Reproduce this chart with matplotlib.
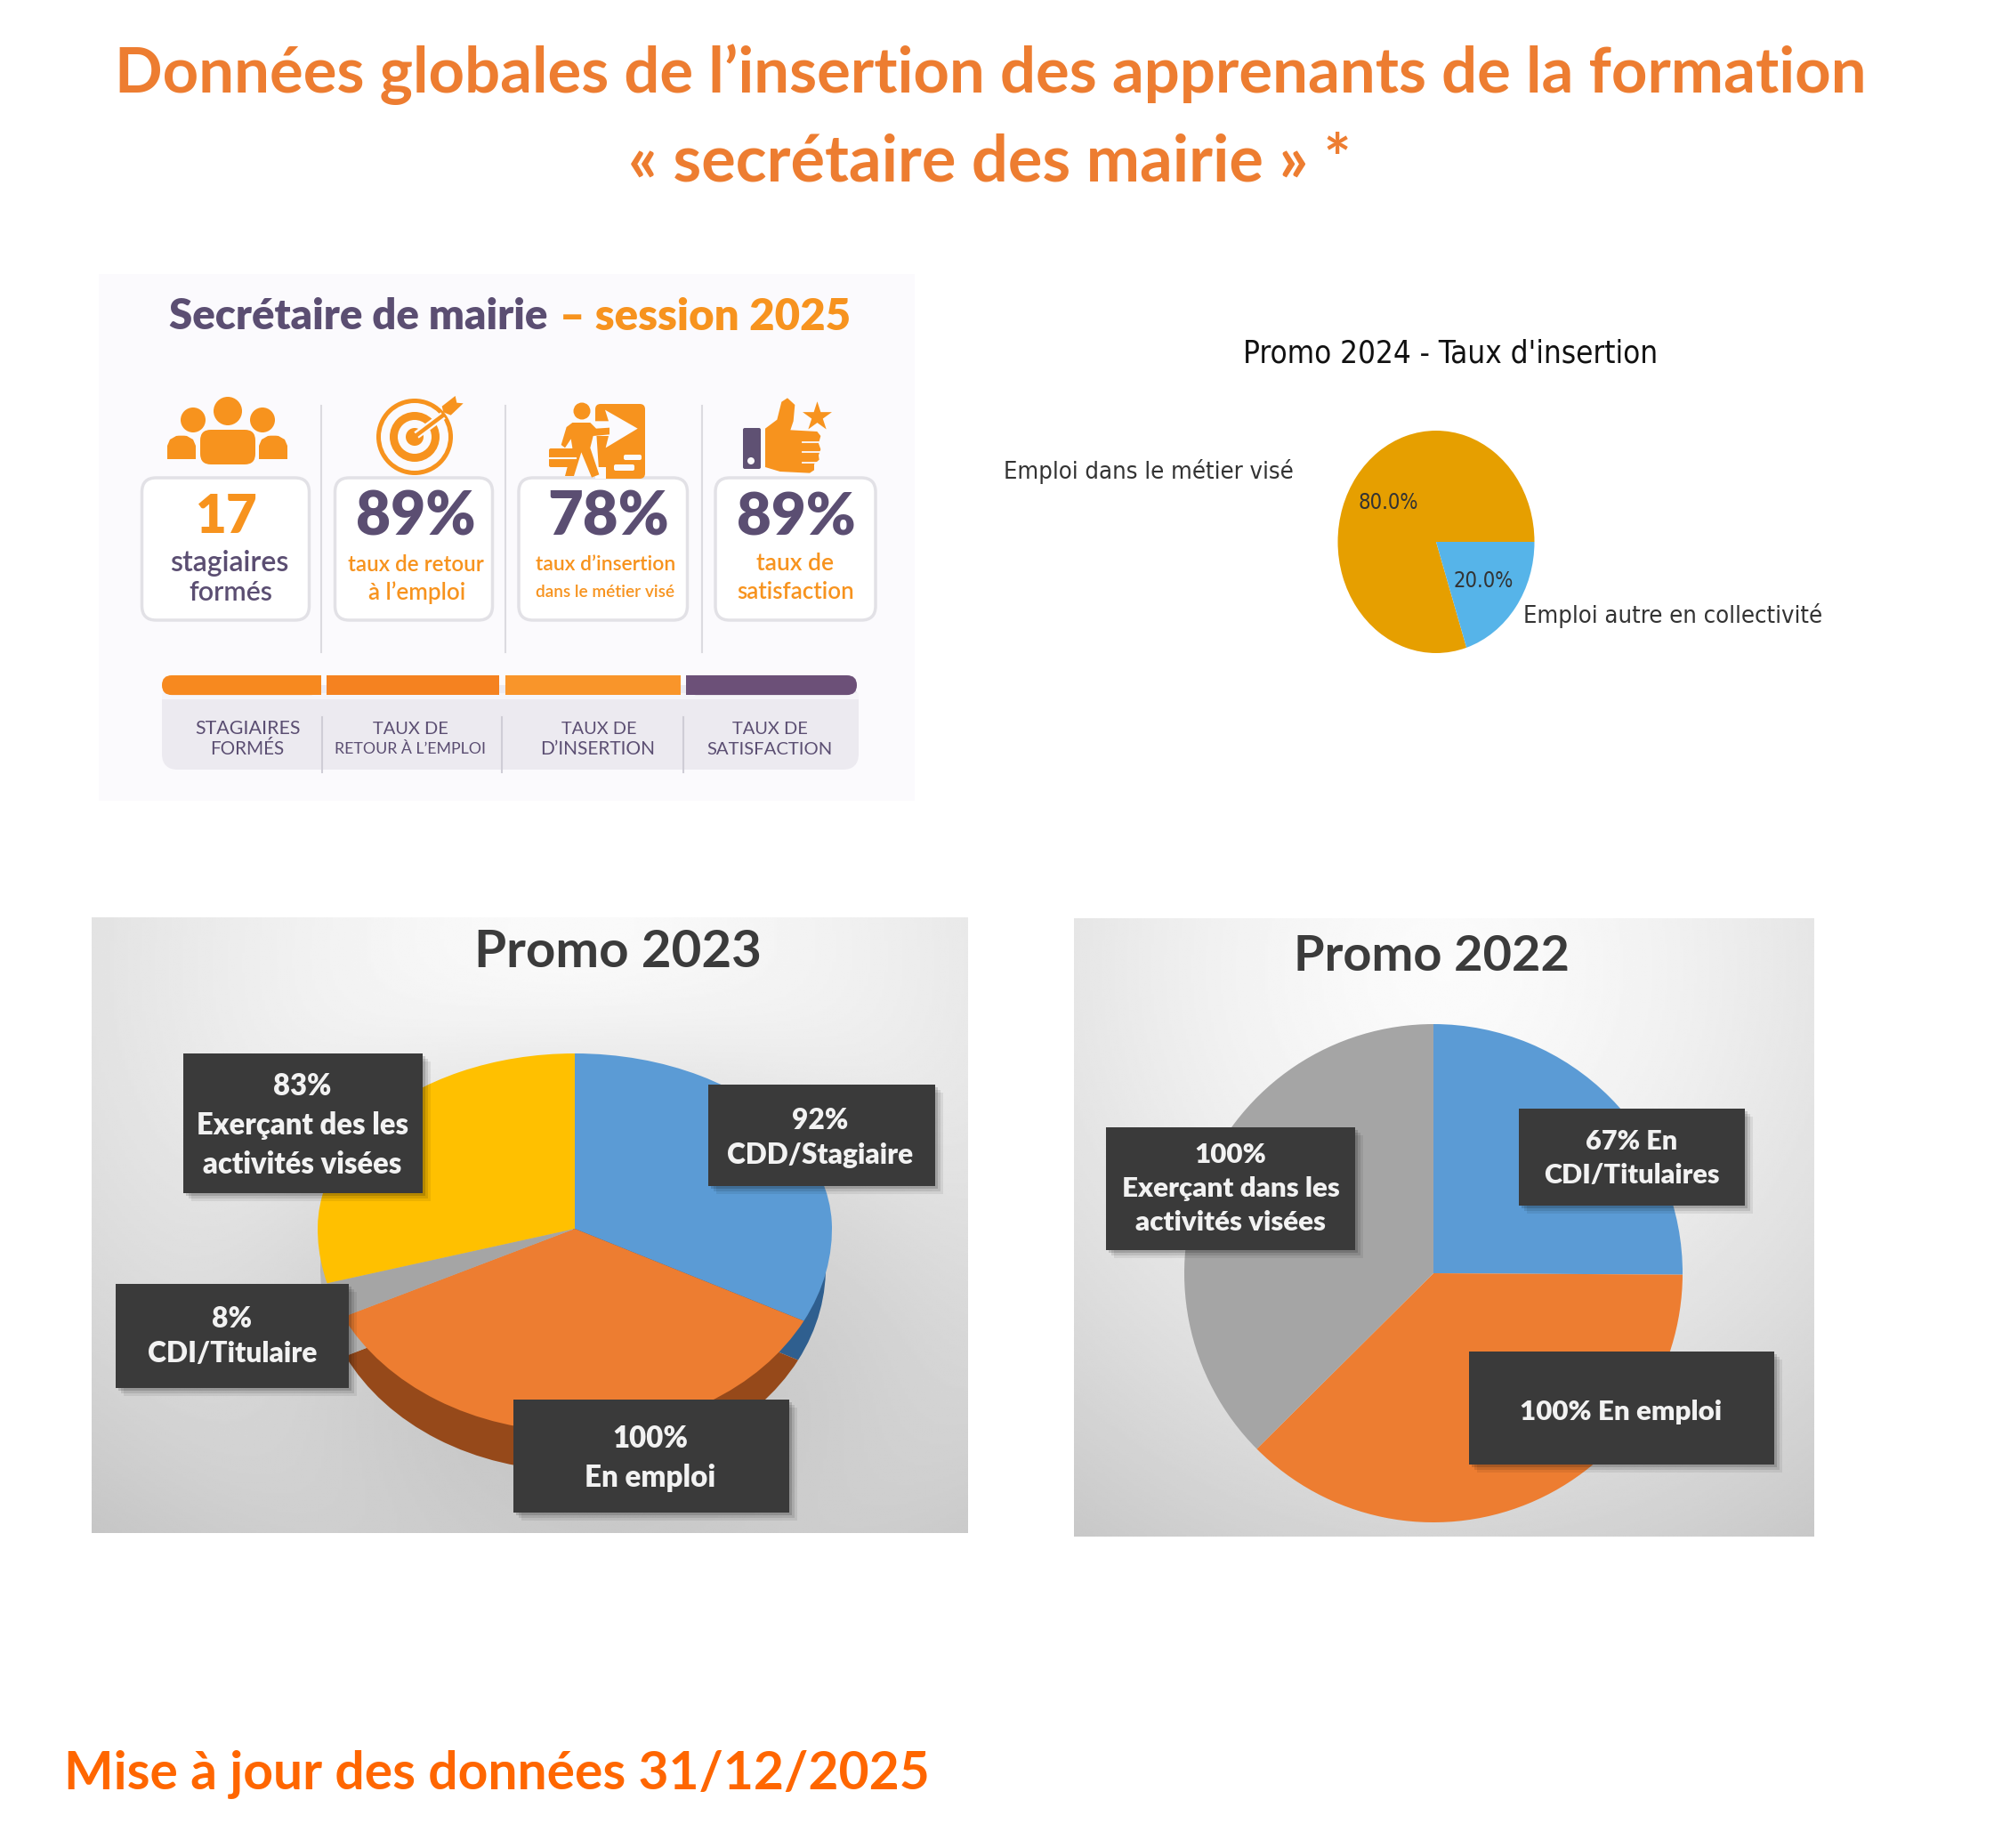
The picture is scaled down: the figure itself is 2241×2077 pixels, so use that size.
import numpy as np
import matplotlib
matplotlib.use("Agg")
import matplotlib.pyplot as plt
from matplotlib.patches import Rectangle, FancyBboxPatch, Circle, Polygon

W, H = 2241, 2077
DPI = 100

# ---- data ----
main_title = ["Données globales de l’insertion des apprenants de la formation",
              "« secrétaire des mairie » *"]
footer = "Mise à jour des données 31/12/2025"

p2024_labels = ["Emploi dans le métier visé", "Emploi autre en collectivité"]
p2024_values = [80, 20]
p2024_colors = ["#E69F00", "#56B4E9"]

p2023_values = [92, 100, 8, 83]
p2023_colors = ["#5B9BD5", "#ED7D31", "#A5A5A5", "#FFC000"]
p2023_dark = ["#2F5F8F", "#96491A", "#B0B0B0", "#B5B5B5"]
p2023_text = ["92%\nCDD/Stagiaire", "100%\nEn emploi", "8%\nCDI/Titulaire",
              "83%\nExerçant des les\nactivités visées"]

p2022_values = [67, 100, 100]
p2022_colors = ["#5B9BD5", "#ED7D31", "#A5A5A5"]
p2022_text = ["67% En\nCDI/Titulaires", "100% En emploi",
              "100%\nExerçant dans les\nactivités visées"]

kpi_values = ["17", "89%", "78%", "89%"]
kpi_lines = [["stagiaires", "formés"], ["taux de retour", "à l’emploi"],
             ["taux d’insertion", "dans le métier visé"], ["taux de", "satisfaction"]]
band_lines = [["STAGIAIRES", "FORMÉS"], ["TAUX DE", "RETOUR À L’EMPLOI"],
              ["TAUX DE", "D’INSERTION"], ["TAUX DE", "SATISFACTION"]]
band_colors = ["#F7891F", "#F58220", "#F9952A", "#6C5078"]

ORANGE = "#F7931E"
PURPLE = "#5B4E72"
PANEL = "#FBFAFD"
SANS = "Lato"

fig = plt.figure(figsize=(W / DPI, H / DPI), dpi=DPI, facecolor="white")


def px_axes(z):
    ax = fig.add_axes([0, 0, 1, 1], zorder=z)
    ax.set_xlim(0, W)
    ax.set_ylim(H, 0)
    ax.axis("off")
    ax.patch.set_alpha(0)
    return ax


bg = px_axes(0)
top = px_axes(5)
renderer = fig.canvas.get_renderer()


def fit(ax, s, x, y, width=None, size=20, color="k", weight="bold", family=SANS, ha="center", **kw):
    t = ax.text(x, y, s, fontsize=size, color=color, fontweight=weight, family=family,
                ha=ha, va="center", **kw)
    if width is not None:
        w = t.get_window_extent(renderer).width
        t.set_fontsize(size * width / w)
    # va="center" leaves the glyphs above the point: compensate
    t.set_y(y + 0.07 * t.get_fontsize() * DPI / 72 if "\n" not in s else y)
    return t


def pie_axes(cx, cy, rx, ry_top, ry_bot, values, colors, z=2, startangle=90):
    for ylim, y0, h in (((0, 1), cy - ry_top, ry_top), ((-1, 0), cy, ry_bot)):
        ax = fig.add_axes([(cx - rx) / W, 1 - (y0 + h) / H, 2 * rx / W, h / H], zorder=z)
        ax.pie(values, colors=colors, startangle=startangle, counterclock=False, radius=1,
               wedgeprops=dict(linewidth=0, clip_on=True))
        ax.set_aspect("auto")
        ax.set_xlim(-1, 1)
        ax.set_ylim(*ylim)
        ax.axis("off")
        ax.patch.set_alpha(0)


def gradient_panel(x0, y0, x1, y1, fx, fy, light, dark, shadow=None):
    yy, xx = np.mgrid[0:1:300j, 0:1:300j]
    d = np.sqrt(((xx - fx) / 0.85) ** 2 + ((yy - fy) / 1.05) ** 2)
    rgb = light + (dark - light) * d ** 1.5
    if shadow is not None:
        sx, sy, ex, ey, amount = shadow
        rgb = rgb - amount * np.exp(-(((xx - sx) / ex) ** 2 + ((yy - sy) / ey) ** 2) ** 2)
    bg.imshow(np.clip(rgb, 0, 1), cmap="gray", vmin=0, vmax=1, extent=(x0, x1, y1, y0), aspect="auto",
              zorder=1, interpolation="bilinear")
    bg.set_xlim(0, W)
    bg.set_ylim(H, 0)


def dark_box(x0, y0, x1, y1, s, cx, cy, width):
    for off, a in ((9, 0.07), (6, 0.10), (3, 0.15)):
        top.add_patch(Rectangle((x0 + off, y0 + off), x1 - x0, y1 - y0, color="black", alpha=a, lw=0))
    top.add_patch(Rectangle((x0, y0), x1 - x0, y1 - y0, color="#3A3A3A", lw=0))
    fit(top, s, cx, cy, width=width, color="#F2F2F2", linespacing=1.45, weight="heavy")


def z3(x0, y0, pts):
    return [(x0 + a / 3, y0 + b / 3) for a, b in pts]


# ---- main title and footer ----
fit(top, main_title[0], 1113, 78.5, width=1969, color="#ED7D31")
fit(top, main_title[1], 1112, 177.5, width=814, color="#ED7D31")
fit(top, footer, 71.5, 1990.5, width=972, color="#FF6600", ha="left")

# ---- infographic panel ----
bg.add_patch(Rectangle((111, 308), 917, 592, color=PANEL, lw=0))
fit(top, "Secrétaire de mairie", 190, 353, width=426, color=PURPLE, ha="left", weight="heavy")
fit(top, "– session 2025", 629, 353, width=327, color=ORANGE, ha="left", weight="heavy")

cards = [(159.5, 347.5), (376.5, 553.5), (583, 772.5), (804, 984)]
num_x = [255, 467, 684, 895]
num_w = [70, 135, 137, 134]
lab_x = [[258, 259], [467, 468.5], [681, 680], [893, 894]]
lab_w = [[134, 94], [153, 109], [157, 156], [87, 131]]
lab_c = [PURPLE, ORANGE, ORANGE, ORANGE]
lab_y = [[631, 664], [633, 664], [633, 664], [632, 664]]
for i, (x0, x1) in enumerate(cards):
    top.add_patch(FancyBboxPatch((x0 + 8, 545), x1 - x0 - 16, 144,
                                 boxstyle="round,pad=8,rounding_size=16",
                                 fc="white", ec="#E2E1E6", lw=2.5))
    fit(top, kpi_values[i], num_x[i], 577, width=num_w[i], color=ORANGE if i == 0 else PURPLE, weight="heavy")
    for j, s in enumerate(kpi_lines[i]):
        fit(top, s, lab_x[i][j], lab_y[i][j], width=lab_w[i][j], color=lab_c[i], weight="semibold")
for x in (361, 568, 789):
    top.plot([x, x], [456, 733], color="#DCDBE0", lw=1.5)

# band
top.add_patch(FancyBboxPatch((190, 778), 767, 79, boxstyle="round,pad=8,rounding_size=18",
                             fc="#ECEAF0", ec="none"))
top.add_patch(Rectangle((182, 779), 783, 7, color="#F6F5F9", lw=0))
band_x = [(182, 361), (367, 561), (567.5, 765), (771, 963)]
for i, (x0, x1) in enumerate(band_x):
    if i in (0, 3):
        top.add_patch(FancyBboxPatch((x0 + 11, 770), x1 - x0 - 22, 0.1,
                                     boxstyle="round,pad=11,rounding_size=11",
                                     fc=band_colors[i], ec="none"))
        top.add_patch(Rectangle((x0 if i == 3 else x1 - 20, 759), 20, 22, color=band_colors[i], lw=0))
    else:
        top.add_patch(Rectangle((x0, 759), x1 - x0, 22, color=band_colors[i], lw=0))
for x in (361.5, 564, 768):
    top.plot([x, x], [806, 868], color="#CFCDD6", lw=1.5)
band_tx = [(279, 118, 278, 83), (461, 85, 461, 170), (673, 84, 672, 129), (865, 85, 865, 141)]
for i, (x, w1, x2, w2) in enumerate(band_tx):
    fit(top, band_lines[i][0], x, 818, width=w1, color=PURPLE, weight="normal")
    fit(top, band_lines[i][1], x2, 841, width=w2, color=PURPLE, weight="normal")

# icon: people
for c, r in (((256, 462), 16), ((217, 472), 14), ((295, 472), 14)):
    top.add_patch(Circle(c, r, color=ORANGE, lw=0))
body = lambda a, b, t, u: [(a, u), (a, t + 12), (a + 3, t + 5), (a + 10, t + 1), (a + 19, t), (b - 19, t),
                           (b - 10, t + 1), (b - 3, t + 5), (b, t + 12), (b, u)]
top.add_patch(Polygon(body(188, 220, 489, 516), color=ORANGE, lw=0))
top.add_patch(Polygon(body(291, 323, 489, 516), color=ORANGE, lw=0))
top.add_patch(FancyBboxPatch((228, 486), 56, 33, boxstyle="round,pad=3,rounding_size=12", fc=ORANGE, ec="none"))

# icon: target
for r, c in ((43, ORANGE), (38, PANEL), (28, ORANGE), (19, PANEL), (10, ORANGE)):
    top.add_patch(Circle((466, 491), r, color=c, lw=0))
top.plot([468, 498], [489, 467], color=PANEL, lw=6.5, solid_capstyle="butt")
top.plot([467, 499], [490, 466], color=ORANGE, lw=3.2, solid_capstyle="butt")
top.add_patch(Polygon(z3(170, 440, [(980, 50), (1025, 15), (1030, 38), (1052, 40), (1010, 80), (985, 70)]),
                      color=ORANGE, lw=0))

# icon: person and door
top.add_patch(FancyBboxPatch((672, 457), 50, 78, boxstyle="round,pad=3,rounding_size=6", fc=ORANGE, ec="none"))
top.add_patch(Rectangle((669, 525), 12, 13, color=PANEL, lw=0))
top.add_patch(Polygon(z3(610, 440, [(170, 100), (222, 100), (210, 62), (320, 125), (212, 190), (222, 150), (170, 150)]),
                      color=PANEL, lw=0))
top.add_patch(FancyBboxPatch((702, 512), 18, 4, boxstyle="round,pad=1,rounding_size=2", fc=PANEL, ec="none"))
top.add_patch(FancyBboxPatch((691, 523), 21, 5, boxstyle="round,pad=1,rounding_size=2", fc=PANEL, ec="none"))
top.add_patch(Polygon(z3(610, 440, [(180, 130), (190, 280), (110, 285), (100, 120)]), color=PANEL, lw=0))
top.add_patch(Circle((654, 462), 9.5, color=ORANGE, lw=0))
top.add_patch(Polygon(z3(610, 440, [(100, 105), (160, 105), (180, 125), (225, 122), (225, 145), (170, 150), (160, 190),
                                    (190, 280), (165, 290), (130, 205), (105, 285), (75, 285), (100, 190), (95, 160),
                                    (75, 190), (62, 180), (80, 120)]), color=ORANGE, lw=0))
top.add_patch(FancyBboxPatch((618, 505), 28, 19, boxstyle="round,pad=1,rounding_size=2", fc=ORANGE, ec="none"))
top.plot([617, 647], [515, 515], color=PANEL, lw=1.5)

# icon: thumb and star
top.add_patch(FancyBboxPatch((836, 482), 18, 44, boxstyle="round,pad=1,rounding_size=2", fc="#5F5173", ec="none"))
top.add_patch(Circle((844, 518), 4, color=PANEL, lw=0))
top.add_patch(Polygon(z3(610, 440, [(750, 125), (790, 95), (805, 35), (825, 22), (850, 45), (845, 100), (835, 130),
                                    (925, 135), (937, 150), (930, 175), (937, 195), (930, 215), (932, 230), (915, 245),
                                    (915, 265), (900, 275), (800, 270), (750, 255)]), color=ORANGE, lw=0))
for yy_ in (170, 205, 240):
    top.plot([610 + 875 / 3, 610 + 940 / 3], [440 + yy_ / 3] * 2, color=PANEL, lw=1.3)
top.scatter([918], [468], marker="*", s=620, color=ORANGE, linewidths=0)
top.set_xlim(0, W)
top.set_ylim(H, 0)

# ---- Promo 2024 ----
COND = dict(family="DejaVu Sans", stretch="condensed", weight="normal")
fit(top, "Promo 2024 - Taux d'insertion", 1630, 395, width=466, color="#111111", **COND)
fit(top, p2024_labels[0], 1128.5, 528, width=326, color="#333333", ha="left", **COND)
fit(top, p2024_labels[1], 1712, 690, width=335, color="#333333", ha="left", **COND)
ax24 = fig.add_axes([(1614 - 110.5) / W, 1 - (609 + 125) / H, 221 / W, 250 / H], zorder=2)
_, _, auto = ax24.pie(p2024_values, colors=p2024_colors, startangle=0, radius=1, autopct="%1.1f%%",
                      pctdistance=0.6, textprops=dict(fontsize=17, color="#333333", family="DejaVu Sans",
                                                      stretch="condensed"))
ax24.set_aspect("auto")
ax24.set_xlim(-1, 1)
ax24.set_ylim(-1, 1)
ax24.axis("off")

# ---- Promo 2023 ----
gradient_panel(103, 1031, 1088, 1723, 0.55, 0.08, 0.985, 0.80, shadow=(0.57, 0.60, 0.37, 0.42, 0.10))
pie_axes(644, 1381 + 44, 284, 197, 228, p2023_values, p2023_dark, z=1.5)
pie_axes(646, 1381, 289, 197, 228, p2023_values, p2023_colors, z=2)
fit(top, "Promo 2023", 694.5, 1066, width=322, color="#3B3B3B")
dark_box(796, 1219, 1050.5, 1333, p2023_text[0], 922, 1279, 210)
dark_box(577, 1573, 886.6, 1700, p2023_text[1], 731, 1639, 147)
dark_box(130, 1443, 392, 1560, p2023_text[2], 261, 1502, 191)
dark_box(206, 1184, 475, 1341, p2023_text[3], 340, 1265, 238)

# ---- Promo 2022 ----
gradient_panel(1207, 1032, 2039, 1727, 0.5, 0.08, 0.985, 0.80)
pie_axes(1611, 1431, 280, 280, 280, p2022_values, p2022_colors, z=2)
fit(top, "Promo 2022", 1609, 1071, width=309, color="#3B3B3B")
dark_box(1707, 1246, 1961, 1355, p2022_text[0], 1834, 1302, 198)
dark_box(1650.5, 1519, 1994, 1646, p2022_text[1], 1822, 1585, 227)
dark_box(1243, 1267, 1523, 1404.5, p2022_text[2], 1383, 1336, 245)

fig.savefig("out.png", dpi=DPI, facecolor="white")
